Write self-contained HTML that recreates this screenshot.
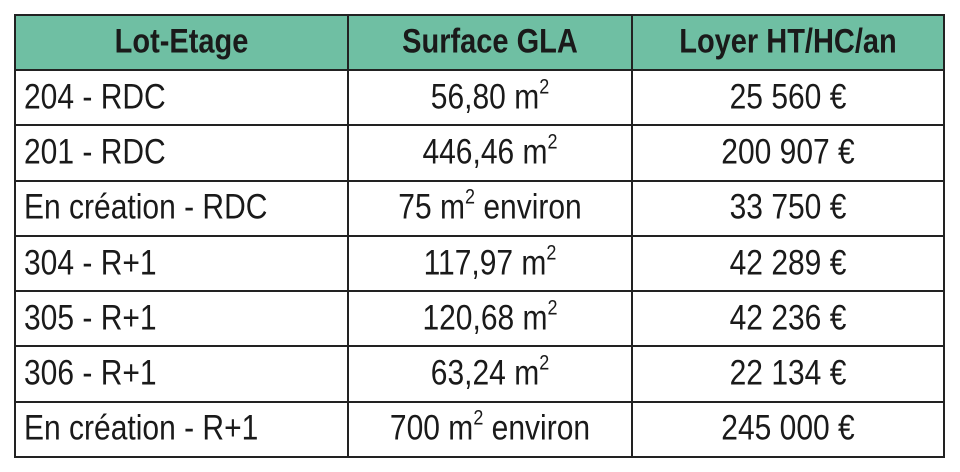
<!DOCTYPE html>
<html><head><meta charset="utf-8"><style>
body{margin:0;width:960px;height:472px;background:#fff;overflow:hidden;font-family:"Liberation Sans",sans-serif;color:#1a1a1a}
table{position:absolute;left:14px;top:14px;border-collapse:collapse;width:931px}
td{border:2.5px solid #222;height:53.3px;padding:0;font-size:30px;white-space:nowrap}
td span{display:inline-block;transform:scaleY(1.18)}
tr.h td{background:#6fbfa3;height:53px;font-weight:bold;text-align:center;font-size:29px}
td.a{width:323px;padding-left:8px;text-align:left}
td.b{width:282px;text-align:center}
td.c{text-align:center}
sup{font-size:18px;vertical-align:13px;line-height:0}
</style></head><body>
<table>
<tr class="h"><td class="a" style="text-align:center;padding-left:0;width:331px"><span>Lot-Etage</span></td><td class="b"><span>Surface GLA</span></td><td class="c"><span>Loyer HT/HC/an</span></td></tr>
<tr><td class="a"><span>204 - RDC</span></td><td class="b"><span>56,80 m<sup>2</sup></span></td><td class="c"><span>25 560 €</span></td></tr>
<tr><td class="a"><span>201 - RDC</span></td><td class="b"><span>446,46 m<sup>2</sup></span></td><td class="c"><span>200 907 €</span></td></tr>
<tr><td class="a"><span>En création - RDC</span></td><td class="b"><span>75 m<sup>2</sup> environ</span></td><td class="c"><span>33 750 €</span></td></tr>
<tr><td class="a"><span>304 - R+1</span></td><td class="b"><span>117,97 m<sup>2</sup></span></td><td class="c"><span>42 289 €</span></td></tr>
<tr><td class="a"><span>305 - R+1</span></td><td class="b"><span>120,68 m<sup>2</sup></span></td><td class="c"><span>42 236 €</span></td></tr>
<tr><td class="a"><span>306 - R+1</span></td><td class="b"><span>63,24 m<sup>2</sup></span></td><td class="c"><span>22 134 €</span></td></tr>
<tr><td class="a"><span>En création - R+1</span></td><td class="b"><span>700 m<sup>2</sup> environ</span></td><td class="c"><span>245 000 €</span></td></tr>
</table>
</body></html>
